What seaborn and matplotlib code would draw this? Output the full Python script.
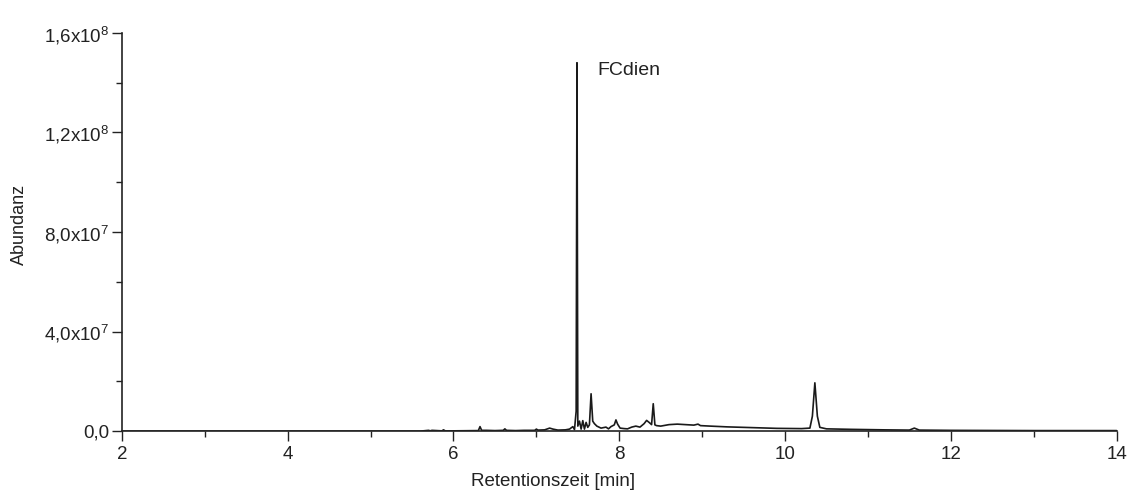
import matplotlib
matplotlib.use("Agg")
import matplotlib.pyplot as plt
import seaborn as sns
import pandas as pd
from matplotlib.ticker import MultipleLocator, FixedLocator

# chromatogram trace (time in min, abundance in 1e6)
time_min = [2.0, 5.6, 5.70, 5.72, 5.74, 5.86, 5.88, 5.90, 6.0, 6.30, 6.32, 6.34, 6.40,
            6.50, 6.60, 6.62, 6.64, 6.75, 6.85, 6.98, 7.00, 7.02, 7.10, 7.16, 7.20, 7.26,
            7.35, 7.40, 7.44, 7.46, 7.48, 7.49, 7.50, 7.52, 7.54, 7.56, 7.58, 7.60, 7.62,
            7.64, 7.66, 7.68, 7.70, 7.73, 7.78, 7.84, 7.87, 7.90, 7.94, 7.96, 7.98, 8.01,
            8.06, 8.10, 8.15, 8.20, 8.25, 8.30, 8.33, 8.36, 8.39, 8.41, 8.43, 8.45, 8.50,
            8.60, 8.70, 8.80, 8.90, 8.95, 8.98, 9.10, 9.30, 9.60, 9.90, 10.20, 10.30, 10.33,
            10.36, 10.39, 10.42, 10.50, 10.80, 11.20, 11.50, 11.56, 11.62, 12.0, 13.0, 14.0]
abundance = [0.0, 0.0, 0.3, 0.1, 0.3, 0.1, 0.5, 0.1, 0.1, 0.2, 1.8, 0.3, 0.3,
             0.2, 0.3, 0.9, 0.3, 0.2, 0.3, 0.3, 0.8, 0.4, 0.5, 1.2, 0.8, 0.4,
             0.5, 0.8, 1.8, 0.6, 8.0, 148.0, 2.0, 4.0, 0.8, 4.2, 0.8, 3.5, 1.5,
             2.5, 15.0, 4.0, 3.0, 2.0, 1.2, 1.6, 0.9, 1.8, 2.5, 4.5, 2.8, 1.2,
             1.0, 0.9, 1.6, 2.0, 1.6, 3.0, 4.3, 3.5, 2.6, 11.0, 2.5, 2.2, 2.0,
             2.6, 2.8, 2.6, 2.4, 2.8, 2.2, 2.0, 1.7, 1.4, 1.1, 1.0, 1.2, 6.0,
             19.4, 6.0, 1.5, 0.9, 0.7, 0.5, 0.4, 1.2, 0.4, 0.3, 0.2, 0.2]

y_ticks = [0, 4e7, 8e7, 1.2e8, 1.6e8]
y_labels = ["0,0", "4,0x10$^{7}$", "8,0x10$^{7}$", "1,2x10$^{8}$", "1,6x10$^{8}$"]
x_ticks = [2, 4, 6, 8, 10, 12, 14]
peak_label = "FCdien"

df = pd.DataFrame({"t": time_min, "a": [v * 1e6 for v in abundance]})

sns.set_style("ticks")
plt.rcParams["font.family"] = ["Liberation Sans", "DejaVu Sans"]
plt.rcParams["mathtext.fontset"] = "custom"
plt.rcParams["mathtext.rm"] = "Liberation Sans"

fig = plt.figure(figsize=(11.29, 4.91), dpi=100)
ax = fig.add_axes([0.108, 0.122, 0.881, 0.811])

sns.lineplot(data=df, x="t", y="a", ax=ax, color="#1a1a1a", linewidth=1.2)

ax.set_xlim(2, 14)
ax.set_ylim(0, 1.6e8)
ax.xaxis.set_major_locator(FixedLocator(x_ticks))
ax.xaxis.set_minor_locator(MultipleLocator(1))
ax.yaxis.set_major_locator(FixedLocator(y_ticks))
ax.yaxis.set_minor_locator(MultipleLocator(2e7))
ax.set_yticklabels(y_labels)
ax.set_xticklabels([str(x) for x in x_ticks])

ax.tick_params(which="major", direction="out", length=7, width=1, labelsize=13.5, colors="#222222")
ax.tick_params(which="minor", direction="out", length=4, width=1, colors="#222222")
ax.tick_params(axis="y", which="major", pad=2)

for s in ["top", "right"]:
    ax.spines[s].set_visible(False)
for s in ["left", "bottom"]:
    ax.spines[s].set_linewidth(1.2)
    ax.spines[s].set_color("#222222")

ax.set_xlabel("Retentionszeit [min]", fontsize=13.5, color="#222222")
ax.set_ylabel("Abundanz", fontsize=13, color="#222222")
ax.xaxis.set_label_coords(0.433, -0.105)
ax.yaxis.set_label_coords(-0.094, 0.52)

ax.text(7.73, 1.45e8, peak_label, fontsize=14, va="center", ha="left", color="#222222")

fig.savefig("out.png", dpi=100)
